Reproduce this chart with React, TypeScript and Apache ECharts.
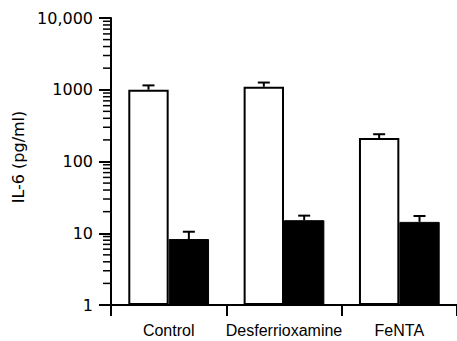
import React, { useEffect, useRef } from "react";
import * as echarts from "echarts";

const categories = ["Control", "Desferrioxamine", "FeNTA"];
const whiteValues = [1000, 1100, 212];
const whiteUpper = [1150, 1260, 240];
const blackValues = [8.3, 15.2, 14.4];
const blackUpper = [10.5, 17.6, 17.4];
const yTickLabels = ["1", "10", "100", "1000", "10,000"];
const minorTickValues = [
  2, 3, 4, 5, 6, 7, 8, 9,
  20, 30, 40, 50, 60, 70, 80, 90,
  200, 300, 400, 500, 600, 700, 800, 900,
  2000, 3000, 4000, 5000, 6000, 7000, 8000, 9000,
];

const CAT_GAP = 0.3;

function errorRender(side: number) {
  return (params: any, api: any) => {
    const ci = api.value(0);
    const v = api.value(1);
    const hi = api.value(2);
    const bw = (api.size([1, 0])[0] * (1 - CAT_GAP)) / 2;
    const p0 = api.coord([ci, v]);
    const p1 = api.coord([ci, hi]);
    const x = p0[0] + (side * bw) / 2;
    return {
      type: "group",
      children: [
        { type: "line", shape: { x1: x, y1: p0[1], x2: x, y2: p1[1] }, style: { stroke: "#000", lineWidth: 2 } },
        { type: "line", shape: { x1: x - 6, y1: p1[1], x2: x + 6, y2: p1[1] }, style: { stroke: "#000", lineWidth: 2 } },
      ],
    };
  };
}

export default function App() {
  const ref = useRef<HTMLDivElement>(null);
  useEffect(() => {
    if (!ref.current) return;
    const chart = echarts.init(ref.current, null, { renderer: "svg" });
    chart.setOption({
      animation: false,
      grid: { left: 111, top: 18, width: 351, height: 287 },
      xAxis: {
        type: "category",
        data: categories,
        boundaryGap: true,
        axisLine: { show: true, lineStyle: { color: "#000", width: 2 } },
        axisTick: { show: true, length: 11, lineStyle: { color: "#000", width: 2 } },
        axisLabel: { color: "#000", fontSize: 16, fontFamily: "Liberation Sans, Arial", margin: 17, interval: 0 },
      },
      yAxis: {
        type: "log",
        logBase: 10,
        min: 1,
        max: 10000,
        name: "IL-6 (pg/ml)",
        nameLocation: "middle",
        nameGap: 70,
        nameTextStyle: { color: "#000", fontSize: 16, fontFamily: "DejaVu Sans", padding: [0, 0, 0, 9] },
        axisLine: { show: true, lineStyle: { color: "#000", width: 2 } },
        axisTick: { show: true, length: 12, lineStyle: { color: "#000", width: 2 } },
        splitLine: { show: false },
        axisLabel: {
          color: "#000",
          fontSize: 16,
          fontFamily: "DejaVu Sans",
          margin: 18,
          formatter: (v: number) => yTickLabels[Math.round(Math.log10(v))] ?? "",
        },
      },
      series: [
        {
          type: "bar",
          data: whiteValues,
          barGap: 0,
          barCategoryGap: "30%",
          itemStyle: { color: "#fff", borderColor: "#000", borderWidth: 2 },
        },
        {
          type: "bar",
          data: blackValues,
          barGap: 0,
          barCategoryGap: "30%",
          itemStyle: { color: "#000", borderColor: "#000", borderWidth: 1 },
        },
        {
          type: "custom",
          renderItem: errorRender(-1),
          encode: { x: 0, y: 1 },
          data: whiteValues.map((v, i) => [i, v, whiteUpper[i]]),
          clip: false,
          silent: true,
          z: 5,
        },
        {
          type: "custom",
          renderItem: errorRender(1),
          encode: { x: 0, y: 1 },
          data: blackValues.map((v, i) => [i, v, blackUpper[i]]),
          clip: false,
          silent: true,
          z: 5,
        },
        {
          type: "custom",
          renderItem: (params: any, api: any) => {
            const v = api.value(1);
            const p = api.coord([0, v]);
            const x0 = p[0] - api.size([1, 0])[0] / 2;
            return {
              type: "line",
              shape: { x1: x0 - 8, y1: p[1], x2: x0, y2: p[1] },
              style: { stroke: "#000", lineWidth: 1.5 },
            };
          },
          encode: { x: 0, y: 1 },
          data: minorTickValues.map((v) => [0, v]),
          clip: false,
          silent: true,
        },
      ],
    });
    return () => chart.dispose();
  }, []);
  return <div ref={ref} style={{ width: 457, height: 341, position: "absolute", left: 0, top: 0 }} />;
}
